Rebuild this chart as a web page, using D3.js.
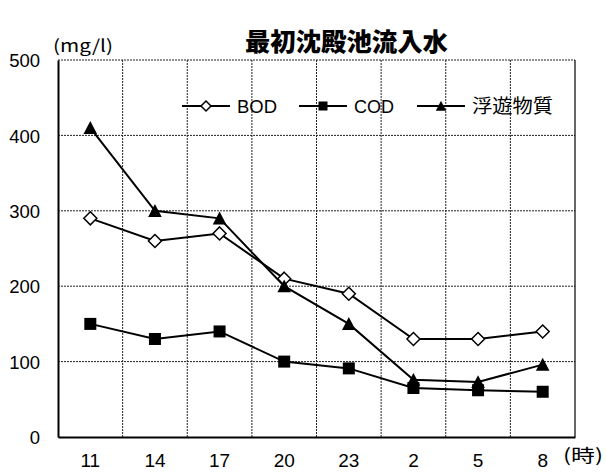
<!DOCTYPE html>
<html>
<head>
<meta charset="utf-8">
<script src="https://cdn.jsdelivr.net/npm/d3@7"></script>
<style>
  html, body { margin: 0; padding: 0; background: #fff; }
  svg { display: block; }
</style>
</head>
<body>
<svg id="chart" width="606" height="472"></svg>
<script>
// ---- data ----
const categories = ["11", "14", "17", "20", "23", "2", "5", "8"];
const bod = [290, 260, 270, 210, 190, 130, 130, 140];
const cod = [150, 130, 140, 100, 91, 65, 62, 60];
const ss  = [410, 300, 290, 200, 150, 76, 73, 96];
const seriesNames = ["BOD", "COD", "浮遊物質"];
const yTicks = [0, 100, 200, 300, 400, 500];
const title = "最初沈殿池流入水";
const yUnit = "(mg/l)";
const xUnit = "(時)";

// ---- layout ----
const svg = d3.select("#chart");
const pLeft = 58, pRight = 575, pTop = 60, pBottom = 437;
const x = d3.scaleBand().domain(categories).range([pLeft, pRight]).padding(0);
const y = d3.scaleLinear().domain([0, 500]).range([pBottom, pTop]);
const cx = c => x(c) + x.bandwidth() / 2;

const numFont = "'Liberation Sans', Arial, sans-serif";
const cjkFont = "'Noto Sans CJK JP', sans-serif";

// gridlines horizontal
svg.append("g").selectAll("line").data(yTicks.filter(d => d > 0)).join("line")
  .attr("x1", pLeft).attr("x2", pRight)
  .attr("y1", d => y(d)).attr("y2", d => y(d))
  .attr("stroke", "#222").attr("stroke-width", 1).attr("stroke-dasharray", "2,1");
// gridlines vertical at band boundaries
svg.append("g").selectAll("line").data(categories.slice(1)).join("line")
  .attr("x1", d => x(d)).attr("x2", d => x(d))
  .attr("y1", pTop).attr("y2", pBottom)
  .attr("stroke", "#222").attr("stroke-width", 1).attr("stroke-dasharray", "2,1");
// right border
svg.append("line").attr("x1", pRight).attr("x2", pRight).attr("y1", pTop).attr("y2", pBottom)
  .attr("stroke", "#000").attr("stroke-width", 1.2);

// axes
const yAxis = svg.append("g").attr("transform", `translate(${pLeft},0)`)
  .call(d3.axisLeft(y).tickValues(yTicks).tickSize(0).tickPadding(18));
yAxis.select(".domain").attr("stroke", "#000").attr("stroke-width", 2);
yAxis.selectAll("text").attr("font-family", numFont).attr("font-size", 18.5).attr("fill", "#000")
  .attr("dy", "0.36em");

const xAxis = svg.append("g").attr("transform", `translate(0,${pBottom})`)
  .call(d3.axisBottom(x).tickSize(0).tickPadding(17));
xAxis.select(".domain").attr("stroke", "#000").attr("stroke-width", 2);
xAxis.selectAll("text").attr("font-family", numFont).attr("font-size", 19).attr("fill", "#000");

// units & title
svg.append("text").attr("x", 53).attr("y", 52).attr("font-family", cjkFont).attr("font-size", 17)
  .attr("textLength", 60).attr("lengthAdjust", "spacingAndGlyphs").text(yUnit);
svg.append("text").attr("x", 563).attr("y", 462).attr("font-family", cjkFont).attr("font-size", 18)
  .attr("textLength", 40).attr("lengthAdjust", "spacingAndGlyphs").text(xUnit);
svg.append("text").attr("x", 245).attr("y", 51).attr("font-family", cjkFont).attr("font-size", 25)
  .attr("font-weight", 900).attr("textLength", 203).attr("lengthAdjust", "spacingAndGlyphs").text(title);

// markers
function drawMarker(g, type, px, py, s) {
  if (type === 0) {
    g.append("path").attr("d", `M${px},${py - s}L${px + s},${py}L${px},${py + s}L${px - s},${py}Z`)
      .attr("fill", "#fff").attr("stroke", "#000").attr("stroke-width", 1.5);
  } else if (type === 1) {
    g.append("rect").attr("x", px - s).attr("y", py - s).attr("width", 2 * s).attr("height", 2 * s)
      .attr("fill", "#000");
  } else {
    g.append("path").attr("d", `M${px},${py - s}L${px + s},${py + s * 0.9}L${px - s},${py + s * 0.9}Z`)
      .attr("fill", "#000");
  }
}

const allSeries = [bod, cod, ss];
const line = d3.line().x((d, i) => cx(categories[i])).y(d => y(d));
const markerSize = [6.5, 6, 6.8];
allSeries.forEach((vals, si) => {
  const g = svg.append("g");
  g.append("path").datum(vals).attr("d", line).attr("fill", "none")
    .attr("stroke", "#000").attr("stroke-width", 2);
  vals.forEach((v, i) => drawMarker(g, si, cx(categories[i]), y(v), markerSize[si]));
});

// legend
const legendY = 106;
const legendX = [182, 299, 417];
const legendTextLen = [40, 40, 81];
const legendMarker = [5, 4.5, 5.2];
seriesNames.forEach((name, i) => {
  const g = svg.append("g");
  const x0 = legendX[i];
  g.append("line").attr("x1", x0).attr("x2", x0 + 48).attr("y1", legendY).attr("y2", legendY)
    .attr("stroke", "#000").attr("stroke-width", 2);
  drawMarker(g, i, x0 + 24, legendY, legendMarker[i]);
  g.append("text").attr("x", x0 + 55).attr("y", legendY + 7)
    .attr("font-family", i === 2 ? cjkFont : numFont).attr("font-size", i === 2 ? 19 : 18)
    .attr("textLength", legendTextLen[i]).attr("lengthAdjust", "spacingAndGlyphs").text(name);
});
</script>
</body>
</html>
